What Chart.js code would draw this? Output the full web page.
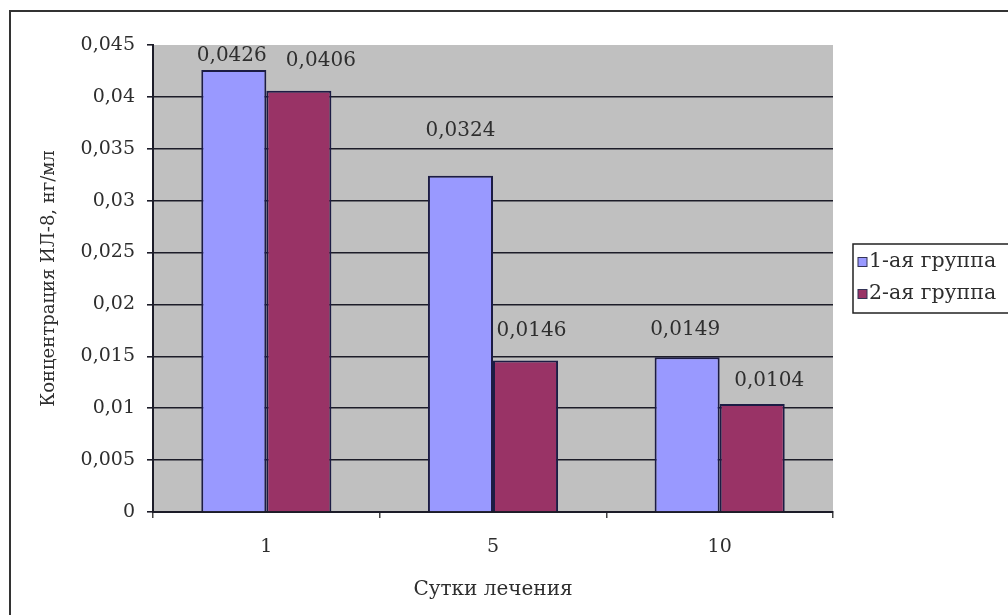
<!DOCTYPE html>
<html>
<head>
<meta charset="utf-8">
<script src="https://cdn.jsdelivr.net/npm/chart.js@4"></script>
<style>
  html, body { margin: 0; padding: 0; background: #ffffff; }
  #wrap { width: 1008px; height: 615px; }
</style>
</head>
<body>
<div id="wrap"><canvas id="c" width="1008" height="615"></canvas></div>
<script>
// Days of treatment and IL-8 concentration (ng/ml) per group
const days = ['1', '5', '10'];
const group1 = [0.0426, 0.0324, 0.0149];
const group2 = [0.0406, 0.0146, 0.0104];
const seriesNames = ['1-ая группа', '2-ая группа'];
const yMin = 0, yMax = 0.045, yStep = 0.005;

const FONT = "'DejaVu Serif', 'Liberation Serif', serif";
const TEXT = '#2e2e2e';
const LINE = '#1c1c28';

const fmt = v => String(Number(v.toFixed(4))).replace('.', ',');

// Grey plot area and the frame around the figure
const backdrop = {
  id: 'backdrop',
  beforeDraw(chart) {
    const { ctx, chartArea: a } = chart;
    ctx.save();
    ctx.fillStyle = '#ffffff';
    ctx.fillRect(0, 0, chart.width, chart.height);
    ctx.strokeStyle = '#333333';
    ctx.lineWidth = 2;
    ctx.strokeRect(10, 11, chart.width + 20, chart.height + 20);
    ctx.fillStyle = '#c0c0c0';
    ctx.fillRect(a.left, a.top, a.right - a.left, a.bottom - a.top);
    ctx.restore();
  }
};

// Value labels above each bar
const valueLabels = {
  id: 'valueLabels',
  afterDatasetsDraw(chart, args, opts) {
    const { ctx } = chart;
    ctx.save();
    ctx.font = opts.font;
    ctx.fillStyle = opts.color;
    ctx.textAlign = 'center';
    ctx.textBaseline = 'middle';
    chart.data.datasets.forEach((ds, di) => {
      chart.getDatasetMeta(di).data.forEach((bar, i) => {
        const lift = opts.lift[di][i], shift = opts.shift[di][i];
        ctx.fillText(fmt(ds.data[i]), bar.x + shift, bar.y - lift);
      });
    });
    ctx.restore();
  }
};

// Boxed legend at the right
const boxLegend = {
  id: 'boxLegend',
  afterDraw(chart, args, opts) {
    const { ctx } = chart;
    ctx.save();
    ctx.strokeStyle = '#222222';
    ctx.lineWidth = 1.5;
    ctx.strokeRect(opts.x, opts.y, opts.w, opts.h);
    ctx.font = opts.font;
    ctx.textBaseline = 'middle';
    ctx.textAlign = 'left';
    chart.data.datasets.forEach((ds, di) => {
      const cy = opts.y + opts.firstRow + di * opts.rowGap;
      ctx.fillStyle = ds.backgroundColor;
      ctx.fillRect(opts.x + 5, cy - 4.5, 9, 9);
      ctx.strokeStyle = '#333355';
      ctx.lineWidth = 1;
      ctx.strokeRect(opts.x + 5, cy - 4.5, 9, 9);
      ctx.fillStyle = TEXT;
      ctx.fillText(ds.label, opts.x + 16, cy);
    });
    ctx.restore();
  }
};

new Chart(document.getElementById('c'), {
  type: 'bar',
  data: {
    labels: days,
    datasets: [
      { label: seriesNames[0], data: group1, backgroundColor: '#9999ff' },
      { label: seriesNames[1], data: group2, backgroundColor: '#993366' }
    ]
  },
  options: {
    responsive: false,
    animation: false,
    devicePixelRatio: 1,
    layout: { padding: { left: 0, top: 45, right: 175, bottom: 0 } },
    datasets: {
      bar: {
        categoryPercentage: 0.574,
        barPercentage: 1,
        borderColor: '#1c1c44',
        borderWidth: 2
      }
    },
    plugins: {
      legend: { display: false },
      tooltip: { enabled: false },
      valueLabels: {
        font: '20px ' + FONT,
        color: TEXT,
        lift: [[14, 45, 28], [30, 30, 23]],
        shift: [[-2, 0, -2], [22, 6, 17]]
      },
      boxLegend: {
        x: 853, y: 244, w: 170, h: 69,
        firstRow: 18, rowGap: 32,
        font: '20.5px ' + FONT
      }
    },
    scales: {
      x: {
        afterFit(scale) { scale.height = 103; },
        grid: {
          offset: true,
          drawOnChartArea: false,
          tickLength: 6,
          tickColor: '#444444',
          lineWidth: 1.5
        },
        border: { color: LINE, width: 2 },
        ticks: {
          color: TEXT,
          font: { family: FONT, size: 19 },
          padding: 18
        },
        title: {
          display: true,
          text: 'Сутки лечения',
          color: TEXT,
          font: { family: FONT, size: 20 },
          padding: { top: 0, bottom: 13 }
        }
      },
      y: {
        min: yMin,
        max: yMax,
        afterFit(scale) { scale.width = 153; },
        grid: {
          color: c => (c.tick && c.tick.value >= yMax - 1e-9) ? 'rgba(0,0,0,0)' : LINE,
          tickColor: LINE,
          lineWidth: 1.6,
          tickLength: 6
        },
        border: { color: LINE, width: 2 },
        ticks: {
          stepSize: yStep,
          color: TEXT,
          font: { family: FONT, size: 19 },
          padding: 12,
          callback: v => fmt(v)
        },
        title: {
          display: true,
          text: 'Концентрация ИЛ-8, нг/мл',
          color: TEXT,
          font: { family: FONT, size: 18 },
          padding: { top: 39, bottom: 0 }
        }
      }
    }
  },
  plugins: [backdrop, valueLabels, boxLegend]
});
</script>
</body>
</html>
